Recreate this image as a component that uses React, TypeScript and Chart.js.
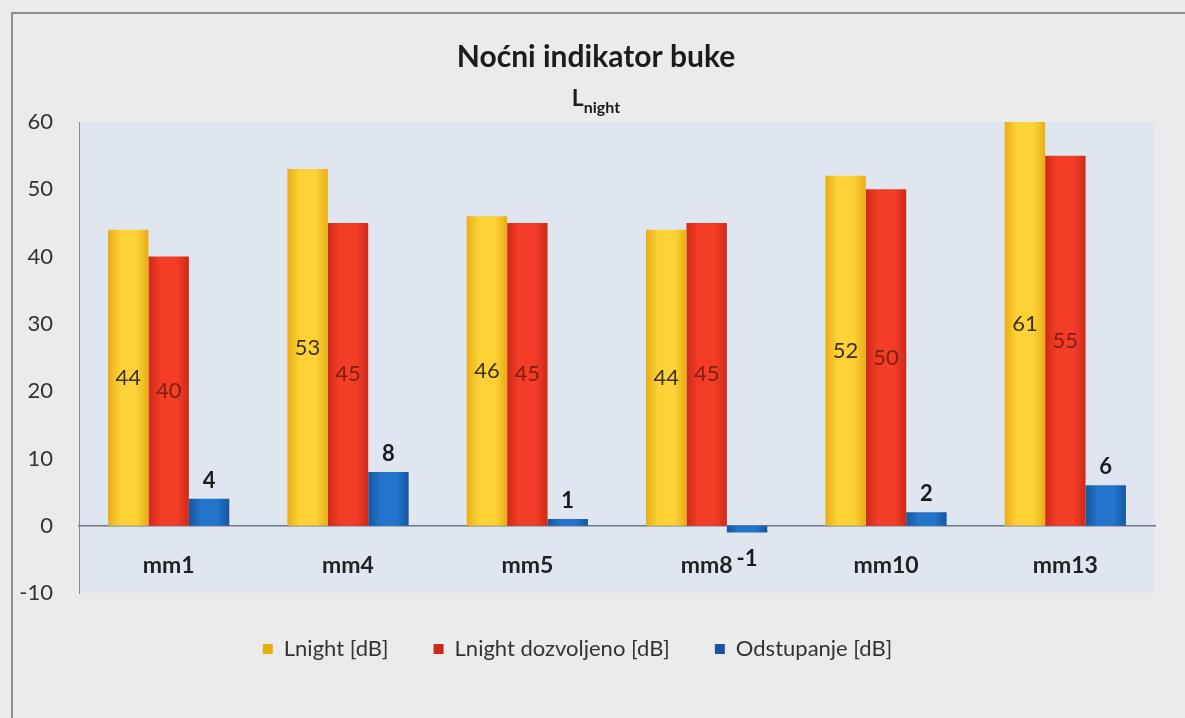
import { useEffect, useRef } from 'react';
import { Chart, registerables } from 'chart.js';

Chart.register(...registerables);

// ---- data ----
const categories = ['mm1', 'mm4', 'mm5', 'mm8', 'mm10', 'mm13'];
const lnight = [44, 53, 46, 44, 52, 61];
const lnightAllowed = [40, 45, 45, 45, 50, 55];
const deviation = [4, 8, 1, -1, 2, 6];
const seriesLabels = ['Lnight [dB]', 'Lnight dozvoljeno [dB]', 'Odstupanje [dB]'];
const yMin = -10;
const yMax = 60;
const yStep = 10;
const titleText = 'Noćni indikator buke';
const subtitleMain = 'L';
const subtitleSub = 'night';

// ---- style ----
const FONT = 'Lato';
const CAT_PCT = 0.676;
const seriesColors = [
  { base: '#fdd236', edge: '#e9ad14' },
  { base: '#f43d27', edge: '#cf2a19' },
  { base: '#2374cc', edge: '#17569e' },
];
const insideLabelColors = ['#3c3422', '#7e1e14'];

function barFill(ctx: any, di: number) {
  const c = seriesColors[di];
  if (ctx.type !== 'data') return c.base;
  const chart = ctx.chart;
  const xs = chart.scales?.x;
  if (!xs || !chart.chartArea || typeof ctx.dataIndex !== 'number') return c.base;
  const catW = xs.width / categories.length;
  const groupW = catW * CAT_PCT;
  const slot = groupW / 3;
  const cx = xs.getPixelForValue(ctx.dataIndex);
  const left = cx - groupW / 2 + slot * di;
  if (!isFinite(left) || !isFinite(slot) || slot <= 0) return c.base;
  const g = chart.ctx.createLinearGradient(left, 0, left + slot, 0);
  g.addColorStop(0, c.edge);
  g.addColorStop(0.3, c.base);
  g.addColorStop(0.7, c.base);
  g.addColorStop(1, c.edge);
  return g;
}

const backgroundPlugin = {
  id: 'pageBackground',
  beforeDraw(chart: any) {
    const { ctx, width, height, chartArea } = chart;
    ctx.save();
    ctx.fillStyle = '#ebebeb';
    ctx.fillRect(0, 0, width, height);
    // frame
    ctx.strokeStyle = '#6f6f6f';
    ctx.lineWidth = 1.5;
    ctx.beginPath();
    ctx.moveTo(12, height);
    ctx.lineTo(12, 13);
    ctx.lineTo(width, 13);
    ctx.stroke();
    // plot area
    if (chartArea) {
      ctx.fillStyle = '#dfe6ef';
      ctx.fillRect(chartArea.left, chartArea.top, chartArea.right - chartArea.left, chartArea.bottom - chartArea.top);
    }
    ctx.restore();
  },
};

const titlePlugin = {
  id: 'titleWithSub',
  afterDraw(chart: any) {
    const { ctx } = chart;
    const cx = 596;
    ctx.save();
    ctx.fillStyle = '#1c1c1c';
    ctx.textBaseline = 'middle';
    ctx.textAlign = 'center';
    ctx.font = `bold 30px ${FONT}`;
    ctx.fillText(titleText, cx, 57);
    ctx.font = `bold 23px ${FONT}`;
    const wMain = ctx.measureText(subtitleMain).width;
    ctx.font = `bold 16px ${FONT}`;
    const wSub = ctx.measureText(subtitleSub).width;
    const start = cx - (wMain + wSub) / 2;
    ctx.textAlign = 'left';
    ctx.font = `bold 23px ${FONT}`;
    ctx.fillText(subtitleMain, start, 99);
    ctx.font = `bold 16px ${FONT}`;
    ctx.fillText(subtitleSub, start + wMain, 108);
    ctx.restore();
  },
};

const valueLabelPlugin = {
  id: 'valueLabels',
  afterDatasetsDraw(chart: any) {
    const { ctx, chartArea } = chart;
    ctx.save();
    ctx.textAlign = 'center';
    ctx.textBaseline = 'middle';
    chart.data.datasets.forEach((ds: any, di: number) => {
      const meta = chart.getDatasetMeta(di);
      meta.data.forEach((el: any, i: number) => {
        const v = ds.data[i];
        const { x, y, base } = el.getProps(['x', 'y', 'base'], true);
        if (di < 2) {
          const top = Math.max(y, chartArea.top);
          ctx.font = `22px ${FONT}`;
          ctx.fillStyle = insideLabelColors[di];
          ctx.fillText(String(v), x, (top + base) / 2);
        } else {
          ctx.font = `bold 22px ${FONT}`;
          ctx.fillStyle = '#1a1a1a';
          if (v >= 0) ctx.fillText(String(v), x, y - 18);
          else ctx.fillText(String(v), x, y + 26);
        }
      });
    });
    ctx.restore();
  },
};

export default function App() {
  const canvasRef = useRef<HTMLCanvasElement | null>(null);

  useEffect(() => {
    if (!canvasRef.current) return;
    const values = [lnight, lnightAllowed, deviation];
    const chart = new Chart(canvasRef.current, {
      type: 'bar',
      data: {
        labels: categories,
        datasets: values.map((d, di) => ({
          label: seriesLabels[di],
          data: d,
          backgroundColor: (ctx: any) => barFill(ctx, di),
          borderWidth: 0,
          categoryPercentage: CAT_PCT,
          barPercentage: 1.0,
        })),
      },
      options: {
        animation: false,
        responsive: true,
        maintainAspectRatio: false,
        layout: { padding: { top: 122, right: 30, bottom: 48, left: 0 } },
        plugins: {
          title: { display: false },
          tooltip: { enabled: false },
          legend: {
            display: true,
            position: 'bottom',
            labels: {
              font: { family: FONT, size: 22 },
              color: '#333333',
              boxWidth: 10,
              boxHeight: 10,
              padding: 45,
            },
          },
        },
        scales: {
          x: {
            position: { y: 0 } as any,
            grid: { display: false, drawTicks: false },
            border: { display: true, color: '#6b7888', width: 1.5 },
            ticks: {
              font: { family: FONT, size: 23, weight: 'bold' },
              color: '#222222',
              padding: 26,
            },
          },
          y: {
            min: yMin,
            max: yMax,
            grid: { display: false, drawTicks: false },
            border: { display: true, color: '#8a8a8a', width: 1 },
            ticks: {
              stepSize: yStep,
              font: { family: FONT, size: 22 },
              color: '#333333',
              padding: 26,
            },
            afterFit: (s: any) => {
              s.width = 79;
            },
          },
        },
      },
      plugins: [backgroundPlugin, titlePlugin, valueLabelPlugin],
    });
    return () => chart.destroy();
  }, []);

  return (
    <div style={{ position: 'fixed', left: 0, top: 0, width: 1185, height: 718 }}>
      <canvas ref={canvasRef} />
    </div>
  );
}
